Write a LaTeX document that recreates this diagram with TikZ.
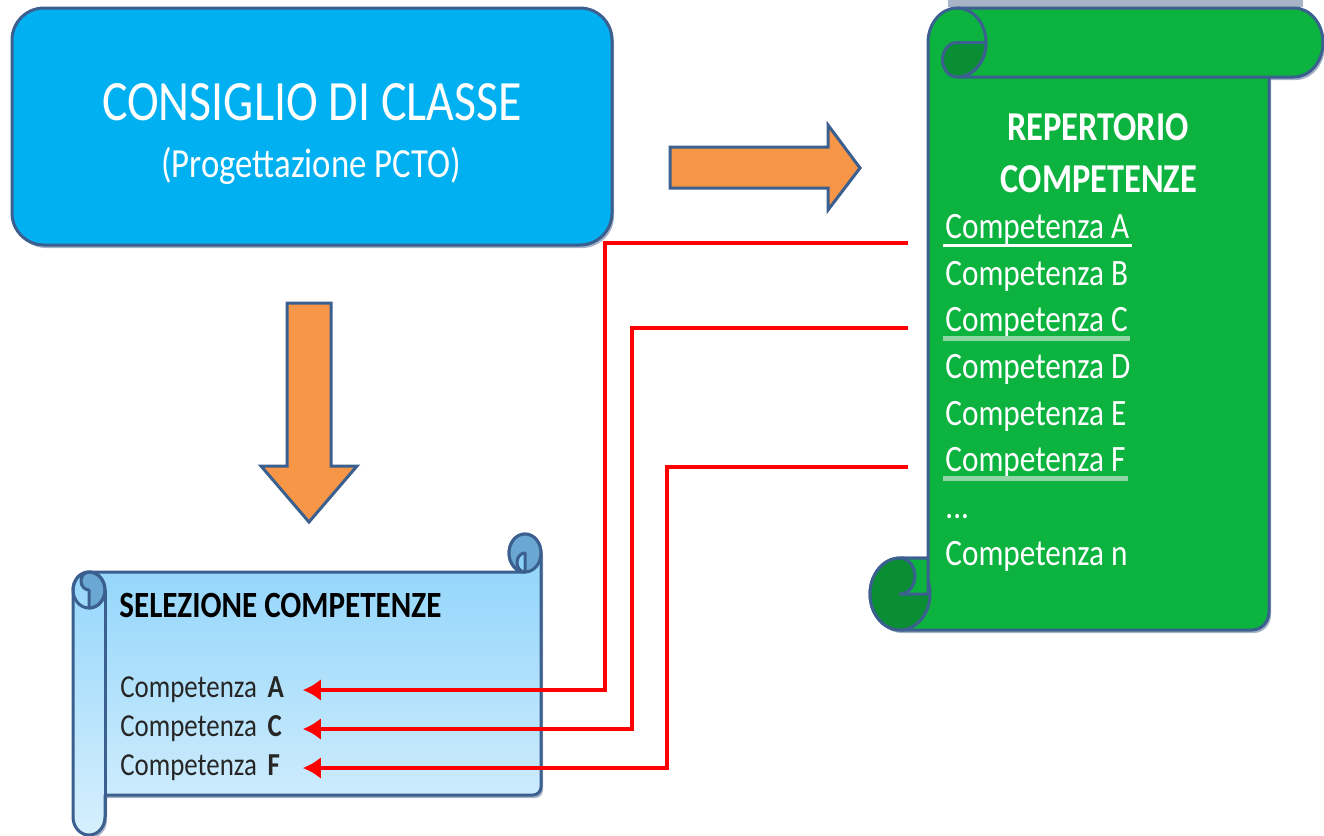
\documentclass[tikz,border=0pt]{standalone}
\usepackage{fontspec}
\setmainfont{Carlito}[FakeStretch=0.84]
\usepackage{tikz}
\usetikzlibrary{calc, shapes, arrows, arrows.meta, shadows}
\definecolor{edge}{HTML}{3B5F8E}
\definecolor{shadowc}{HTML}{A7B3C7}
\definecolor{boxblue}{HTML}{00B0F0}
\definecolor{blockorange}{HTML}{F79646}
\definecolor{scrollgreen}{HTML}{0DB33F}
\definecolor{darkgreen}{HTML}{0A8E33}
\definecolor{scrolltop}{HTML}{8CD3FB}
\definecolor{scrollbot}{HTML}{D6EFFD}
\definecolor{curlblue}{HTML}{6AA7D2}
\definecolor{paleline}{HTML}{8FD6A4}

\begin{document}
\begin{tikzpicture}[x=0.5pt, y=-0.5pt]
\tikzstyle{line} = [draw, red, line width=2.2pt, -{Latex[length=9pt,width=11pt]}]
\tikzstyle{outline}=[draw=edge, line width=1.5pt, line join=round]
\tikzstyle{shade}=[drop shadow={shadow xshift=1pt, shadow yshift=-1.5pt, fill=shadowc, opacity=1}]
\tikzstyle{block}=[outline, fill=blockorange, line join=miter]
\tikzstyle{title}=[anchor=base, inner sep=0pt, text=white, font=\fontsize{28.5pt}{30pt}\selectfont]
\tikzstyle{subtitle}=[anchor=base, inner sep=0pt, text=white, font=\fontsize{20.7pt}{22pt}\selectfont]
\tikzstyle{rephead}=[anchor=base, inner sep=0pt, text=white, font=\fontsize{20.5pt}{22pt}\selectfont\bfseries]
\tikzstyle{item}=[anchor=base west, inner sep=0pt, text=white, font=\fontsize{18.6pt}{20pt}\selectfont]
\tikzstyle{selhead}=[anchor=base west, inner sep=0pt, text=black, font=\fontsize{18.5pt}{20pt}\selectfont\bfseries]
\tikzstyle{sel}=[anchor=west, inner sep=0pt, text width=91pt, align=left, text=black!85, font=\fontsize{16pt}{18pt}\selectfont]
\tikzstyle{ulwhite}=[draw=white, line width=1.5pt]
\tikzstyle{ulpale}=[draw=paleline, line width=2.5pt]

\useasboundingbox (0,0) rectangle (1324,836);

\node[outline, shade, fill=boxblue, rounded corners=16pt, minimum width=300pt, minimum height=118.5pt, inner sep=0pt] (B_0) at (312,126.5) {};
\node[title] (T_0) at (312,120) {CONSIGLIO DI CLASSE};
\node[subtitle] (T_1) at (311,177) {(Progettazione PCTO)};

\path[block] (670,147) -- (828,147) -- (828,125) -- (860,168) -- (828,210) -- (828,188) -- (670,188) -- cycle;
\path[block] (287,303) -- (331,303) -- (331,466) -- (357,466) -- (309,522) -- (261,466) -- (287,466) -- cycle;

\fill[shadowc] (948,0) rectangle (1303,7);
\path[outline, shade, fill=scrollgreen] (928,42.5) arc[start angle=180, end angle=270, x radius=29, y radius=34.5]
  -- (1294,8) arc[start angle=270, end angle=450, x radius=29, y radius=34.5]
  -- (1269,77) -- (1269,612) arc[start angle=0, end angle=90, x radius=17, y radius=18]
  -- (900,630) arc[start angle=90, end angle=270, x radius=30, y radius=36]
  -- (928,558) -- cycle;
\draw[outline] (957,8) arc[start angle=270, end angle=450, x radius=29, y radius=34.5] -- (1269,77);
\path[outline, fill=darkgreen] (986,42.5) arc[start angle=0, end angle=90, x radius=29, y radius=34.5]
  arc[start angle=90, end angle=270, x radius=14.5, y radius=17.25] -- cycle;
\path[outline, fill=darkgreen] (900,594) ellipse [x radius=30, y radius=36];
\path[outline, fill=scrollgreen] (900,558) -- (928,558) -- (928,594) -- (900,594)
  arc[start angle=90, end angle=-90, x radius=15, y radius=18] -- cycle;

\node[rephead] (H_1) at (1098,140) {REPERTORIO};
\node[rephead] (H_2) at (1099,192) {COMPETENZE};
\node[item] (R_1) at (945,238) {Competenza A};
\node[item] (R_2) at (945,285) {Competenza B};
\node[item] (R_3) at (945,331) {Competenza C};
\node[item] (R_4) at (945,378) {Competenza D};
\node[item] (R_5) at (945,425) {Competenza E};
\node[item] (R_6) at (945,471) {Competenza F};
\node[item] (R_7) at (945,518) {...};
\node[item] (R_8) at (945,565) {Competenza n};
\path[ulwhite] ([xshift=-1pt,yshift=-3.5pt]R_1.base west) -- ([xshift=1pt,yshift=-3.5pt]R_1.base east);
\path[ulpale] ([xshift=-1pt,yshift=-3.5pt]R_3.base west) -- ([xshift=1pt,yshift=-3.5pt]R_3.base east);
\path[ulpale] ([xshift=-1pt,yshift=-3.5pt]R_6.base west) -- ([xshift=1pt,yshift=-3.5pt]R_6.base east);

\path[outline, shade, top color=scrolltop, bottom color=scrollbot] (73,590) arc[start angle=180, end angle=270, x radius=16, y radius=18]
  -- (525,572) arc[start angle=90, end angle=360, x radius=16, y radius=19]
  -- (541,787) arc[start angle=0, end angle=90, x radius=8, y radius=8]
  -- (105,795) -- (105,817) arc[start angle=0, end angle=180, x radius=16, y radius=18]
  -- cycle;
\path[outline, fill=curlblue] (89,572) arc[start angle=270, end angle=450, x radius=16, y radius=18]
  -- (89,590) arc[start angle=90, end angle=270, x radius=8, y radius=9] -- cycle;
\draw[outline] (89,590) ellipse [x radius=16, y radius=18];
\draw[outline] (105,590) -- (105,817);
\path[outline, fill=curlblue] (525,553) ellipse [x radius=16, y radius=19];
\path[outline, fill=scrolltop] (525,553) -- (525,572) arc[start angle=90, end angle=270, x radius=8, y radius=9.5] -- cycle;

\node[selhead] (S_0) at (119,617) {SELEZIONE COMPETENZE};
\node[sel] (S_1) at (120,690) {Competenza \textbf{A}};
\node[sel] (S_2) at (120,729) {Competenza \textbf{C}};
\node[sel] (S_3) at (120,768) {Competenza \textbf{F}};

\coordinate (rA) at (908,243);
\coordinate (rC) at (908,328);
\coordinate (rF) at (908,467);
\path [line] (rA) -- ++(-303,0) |- (S_1.east);
\path [line] (rC) -- ++(-276,0) |- (S_2.east);
\path [line] (rF) -- ++(-241,0) |- (S_3.east);
\end{tikzpicture}
\end{document}
